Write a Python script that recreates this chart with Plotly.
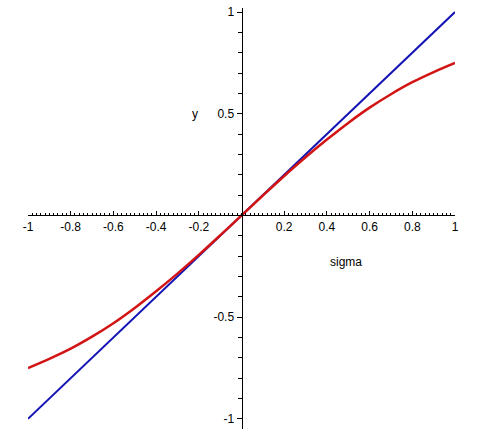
import plotly.graph_objects as go

sigma = [-1.0, -0.9, -0.8, -0.7, -0.6, -0.5, -0.4, -0.3, -0.2, -0.1,
         0.0, 0.1, 0.2, 0.3, 0.4, 0.5, 0.6, 0.7, 0.8, 0.9, 1.0]
y_red = [-0.75, -0.705, -0.655, -0.596, -0.53, -0.455, -0.373, -0.286, -0.194, -0.098,
         0.0, 0.098, 0.194, 0.286, 0.373, 0.455, 0.53, 0.596, 0.655, 0.705, 0.75]
line_x = [-1.0, 1.0]
line_y = [-1.0, 1.0]

x_ticks = [-1, -0.8, -0.6, -0.4, -0.2, 0.2, 0.4, 0.6, 0.8, 1]
x_labels = ["-1", "-0.8", "-0.6", "-0.4", "-0.2", "0.2", "0.4", "0.6", "0.8", "1"]
y_ticks = [-1, -0.5, 0.5, 1]
y_labels = ["-1", "-0.5", "0.5", "1"]

y_lo, y_hi = -1.05, 1.02

fig = go.Figure()
fig.add_trace(go.Scatter(x=line_x, y=line_y, mode="lines",
                         line=dict(color="#1414b4", width=2)))
fig.add_trace(go.Scatter(x=sigma, y=y_red, mode="lines",
                         line=dict(color="#d21414", width=2.5, shape="spline")))

font = dict(family="Liberation Sans, Arial, sans-serif", size=12, color="black")

fig.update_layout(
    width=482, height=435,
    margin=dict(l=28, r=27, t=8, b=6),
    paper_bgcolor="white", plot_bgcolor="white",
    showlegend=False,
    font=font,
    xaxis=dict(range=[-1, 1], anchor="free", position=(0 - y_lo) / (y_hi - y_lo),
               automargin=False, ticklabeloverflow="allow",
               showline=True, linecolor="black", linewidth=1,
               showgrid=False, zeroline=False,
               tickvals=x_ticks, ticktext=x_labels,
               ticks="inside", ticklen=4, tickcolor="black",
               minor=dict(dtick=0.02, ticks="inside", ticklen=2, tickcolor="black"),
               tickfont=font),
    yaxis=dict(range=[y_lo, y_hi], anchor="free", position=0.5,
               automargin=False, ticklabeloverflow="allow",
               showline=True, linecolor="black", linewidth=1,
               showgrid=False, zeroline=False,
               tickvals=y_ticks, ticktext=y_labels,
               ticks="outside", ticklen=5, tickcolor="black",
               minor=dict(dtick=0.1, ticks="outside", ticklen=4, tickcolor="black"),
               tickfont=font),
    annotations=[
        dict(text="sigma", x=0.49, y=-0.23, xref="x", yref="y",
             showarrow=False, font=font),
        dict(text="y", x=-0.22, y=0.5, xref="x", yref="y",
             showarrow=False, font=font),
    ],
)

# drop the page's default body margin so the figure fills the window
fig.write_html("out.html", config={"displayModeBar": False},
               post_script="document.body.style.margin = '0';")
